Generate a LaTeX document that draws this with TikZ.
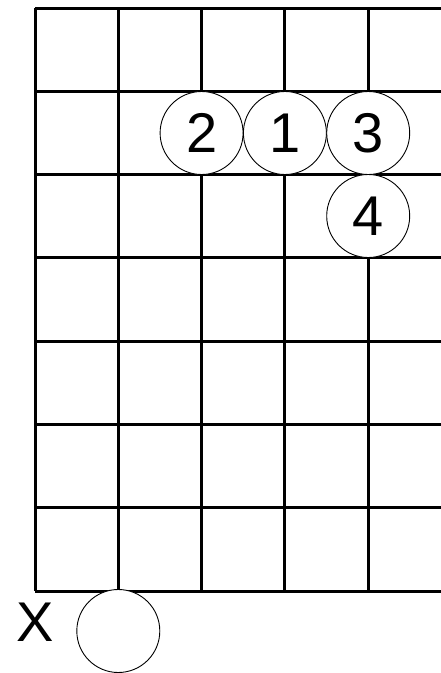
\documentclass[tikz,border=0pt]{standalone}
\usepackage{fontspec}
\setmainfont{Liberation Sans}
\begin{document}
\begin{tikzpicture}[x=1pt,y=-1pt,
  gridline/.style={line width=3pt,black},
  stone/.style={circle,draw=black,line width=0.9pt,fill=white,minimum size=83pt,inner sep=0pt,font=\fontsize{56}{56}\selectfont},
  lbl/.style={inner sep=0pt,font=\fontsize{56}{56}\selectfont}]
\useasboundingbox (0,0) rectangle (441,673);
\def\s{83.3}
% horizontal lines
\foreach \i in {0,...,7} {
  \draw[gridline] (35,8+\i*\s) -- (441,8+\i*\s);
}
% vertical lines
\foreach \j in {0,...,4} {
  \draw[gridline] (35+\j*\s,8) -- (35+\j*\s,591.1);
}
\node[stone] (s2) at (201.6,133) {2};
\node[stone] (s1) at (284.9,133) {1};
\node[stone] (s3) at (368.2,133) {3};
\node[stone] (s4) at (368.2,216) {4};
\node[stone] (sx) at (118.3,631) {};
\node[lbl] (x) at (35,622) {X};
\end{tikzpicture}
\end{document}
